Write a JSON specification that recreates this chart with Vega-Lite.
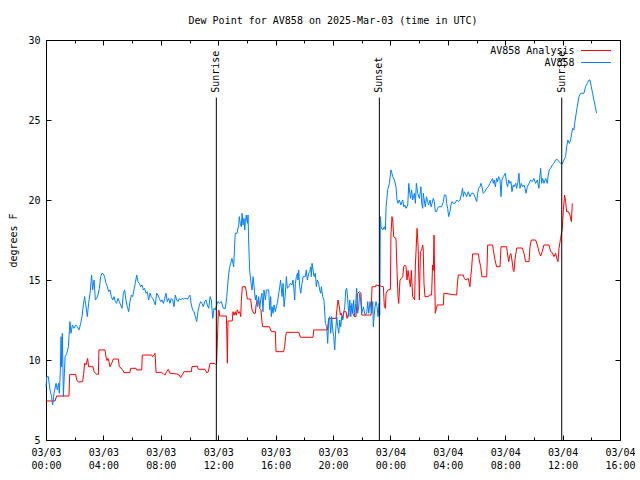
{
  "$schema": "https://vega.github.io/schema/vega-lite/v6.json",
  "width": 574,
  "height": 400,
  "autosize": "none",
  "padding": {"left": 46, "top": 40, "right": 20, "bottom": 40},
  "background": "white",
  "title": {"text": "Dew Point for AV858 on 2025-Mar-03 (time in UTC)", "font": "DejaVu Sans Mono", "fontSize": 10, "fontWeight": "normal", "color": "black", "offset": 9, "anchor": "middle"},
  "config": {
    "view": {"stroke": "black", "strokeWidth": 1},
    "axis": {"domain": false, "grid": false, "tickColor": "black", "tickSize": -5, "tickWidth": 1, "labelColor": "black", "labelFont": "DejaVu Sans Mono", "labelFontSize": 10, "titleFont": "DejaVu Sans Mono", "titleFontSize": 10, "titleFontWeight": "normal", "titleColor": "black", "labelFlush": false},
    "legend": {"labelFont": "DejaVu Sans Mono", "labelFontSize": 10, "labelColor": "black"}
  },
  "datasets": {
    "red": [
      {"h":0.0,"v":7.44},{"h":0.63,"v":7.44},{"h":0.74,"v":7.75},{"h":1.6,"v":7.75},{"h":1.65,"v":9.1},{"h":2.07,"v":9.1},{"h":2.14,"v":8.75},{"h":2.25,"v":8.62},{"h":2.55,"v":8.65},{"h":2.62,"v":9.1},{"h":2.69,"v":9.8},{"h":2.79,"v":9.7},{"h":2.9,"v":10.1},{"h":2.97,"v":9.58},{"h":3.28,"v":9.58},{"h":3.35,"v":9.27},{"h":3.53,"v":9.1},{"h":3.65,"v":9.1},{"h":3.69,"v":10.63},{"h":4.11,"v":10.63},{"h":4.18,"v":10.2},{"h":4.25,"v":9.96},{"h":4.32,"v":10.1},{"h":4.39,"v":9.9},{"h":4.46,"v":9.58},{"h":4.58,"v":9.8},{"h":4.69,"v":10.06},{"h":5.04,"v":10.06},{"h":5.11,"v":9.58},{"h":5.23,"v":9.5},{"h":5.34,"v":9.38},{"h":5.44,"v":9.21},{"h":5.85,"v":9.21},{"h":5.9,"v":9.48},{"h":6.27,"v":9.48},{"h":6.32,"v":9.38},{"h":6.67,"v":9.38},{"h":6.71,"v":10.31},{"h":7.36,"v":10.31},{"h":7.43,"v":10.2},{"h":7.53,"v":10.31},{"h":7.6,"v":10.42},{"h":7.67,"v":9.23},{"h":8.06,"v":9.23},{"h":8.18,"v":9.13},{"h":8.29,"v":9.06},{"h":8.41,"v":9.27},{"h":8.52,"v":9.42},{"h":8.64,"v":9.17},{"h":9.11,"v":9.13},{"h":9.29,"v":9.06},{"h":9.38,"v":8.9},{"h":9.48,"v":9.06},{"h":9.62,"v":9.27},{"h":10.13,"v":9.27},{"h":10.17,"v":9.58},{"h":10.54,"v":9.62},{"h":10.61,"v":9.42},{"h":11.08,"v":9.42},{"h":11.2,"v":9.2},{"h":11.31,"v":9.27},{"h":11.43,"v":9.79},{"h":11.73,"v":9.79},{"h":11.8,"v":9.73},{"h":11.89,"v":9.79},{"h":11.92,"v":10.6},{"h":12.01,"v":13.1},{"h":12.06,"v":13.1},{"h":12.1,"v":12.75},{"h":12.57,"v":12.75},{"h":12.61,"v":11.25},{"h":12.64,"v":9.8},{"h":12.68,"v":12.44},{"h":12.98,"v":12.44},{"h":13.03,"v":13.02},{"h":13.1,"v":12.8},{"h":13.19,"v":13.02},{"h":13.26,"v":12.8},{"h":13.33,"v":13.13},{"h":13.43,"v":12.92},{"h":13.5,"v":13.02},{"h":13.57,"v":12.71},{"h":13.61,"v":13.65},{"h":13.68,"v":14.58},{"h":13.89,"v":14.58},{"h":13.96,"v":14.27},{"h":14.03,"v":13.81},{"h":14.26,"v":13.81},{"h":14.31,"v":13.44},{"h":14.36,"v":13.13},{"h":14.47,"v":12.92},{"h":14.59,"v":12.92},{"h":14.64,"v":13.44},{"h":14.73,"v":13.75},{"h":14.82,"v":13.65},{"h":14.89,"v":13.23},{"h":14.98,"v":13.13},{"h":15.05,"v":12.4},{"h":15.1,"v":12.08},{"h":15.57,"v":12.08},{"h":15.7,"v":11.77},{"h":15.98,"v":11.77},{"h":16.03,"v":10.52},{"h":16.56,"v":10.52},{"h":16.63,"v":10.83},{"h":16.7,"v":11.46},{"h":16.75,"v":11.73},{"h":17.61,"v":11.73},{"h":17.73,"v":11.42},{"h":18.61,"v":11.42},{"h":18.66,"v":11.88},{"h":19.61,"v":11.88},{"h":19.7,"v":12.6},{"h":20.21,"v":12.6},{"h":20.28,"v":13.23},{"h":20.35,"v":13.75},{"h":20.44,"v":13.33},{"h":20.51,"v":12.81},{"h":20.58,"v":12.92},{"h":20.67,"v":12.6},{"h":20.74,"v":13.02},{"h":20.91,"v":13.02},{"h":20.98,"v":12.6},{"h":21.05,"v":12.81},{"h":21.14,"v":13.33},{"h":21.26,"v":13.33},{"h":21.37,"v":12.92},{"h":21.49,"v":12.71},{"h":21.6,"v":12.71},{"h":21.72,"v":14.17},{"h":21.84,"v":14.27},{"h":21.95,"v":14.17},{"h":22.0,"v":12.81},{"h":22.65,"v":12.81},{"h":22.72,"v":14.58},{"h":22.95,"v":14.58},{"h":23.0,"v":14.69},{"h":23.51,"v":14.58},{"h":23.58,"v":13.33},{"h":23.65,"v":13.23},{"h":23.7,"v":14.17},{"h":23.76,"v":14.27},{"h":23.83,"v":14.38},{"h":24.0,"v":14.4},{"h":24.04,"v":17.9},{"h":24.11,"v":18.96},{"h":24.16,"v":18.75},{"h":24.23,"v":17.7},{"h":24.39,"v":17.6},{"h":24.46,"v":15.6},{"h":24.53,"v":13.96},{"h":24.58,"v":13.54},{"h":24.67,"v":15.0},{"h":24.76,"v":15.1},{"h":24.86,"v":15.2},{"h":24.93,"v":15.83},{"h":25.0,"v":15.94},{"h":25.09,"v":15.83},{"h":25.16,"v":15.0},{"h":25.23,"v":15.6},{"h":25.32,"v":15.0},{"h":25.39,"v":14.58},{"h":25.46,"v":15.6},{"h":25.55,"v":13.96},{"h":25.69,"v":13.75},{"h":25.74,"v":15.94},{"h":25.79,"v":16.88},{"h":25.86,"v":18.23},{"h":25.93,"v":17.08},{"h":26.02,"v":13.75},{"h":26.09,"v":16.77},{"h":26.18,"v":16.88},{"h":26.25,"v":17.19},{"h":26.29,"v":16.88},{"h":26.34,"v":14.79},{"h":26.41,"v":13.96},{"h":26.64,"v":13.96},{"h":26.71,"v":14.06},{"h":26.87,"v":14.06},{"h":26.94,"v":15.94},{"h":26.99,"v":15.6},{"h":27.04,"v":17.81},{"h":27.08,"v":15.4},{"h":27.13,"v":12.92},{"h":27.17,"v":13.1},{"h":27.27,"v":13.44},{"h":27.69,"v":13.44},{"h":27.73,"v":14.17},{"h":28.62,"v":14.06},{"h":28.66,"v":14.69},{"h":28.73,"v":15.31},{"h":29.08,"v":15.31},{"h":29.15,"v":15.1},{"h":29.27,"v":15.0},{"h":29.43,"v":15.1},{"h":29.54,"v":14.58},{"h":29.59,"v":15.1},{"h":29.66,"v":15.73},{"h":29.73,"v":16.63},{"h":30.13,"v":16.63},{"h":30.19,"v":16.25},{"h":30.29,"v":15.83},{"h":30.38,"v":15.2},{"h":30.71,"v":15.2},{"h":30.78,"v":17.19},{"h":31.12,"v":17.19},{"h":31.17,"v":16.88},{"h":31.29,"v":16.25},{"h":31.4,"v":15.83},{"h":31.64,"v":15.83},{"h":31.71,"v":17.08},{"h":32.1,"v":17.08},{"h":32.17,"v":16.56},{"h":32.24,"v":16.15},{"h":32.33,"v":16.56},{"h":32.4,"v":16.65},{"h":32.47,"v":16.25},{"h":32.56,"v":15.6},{"h":32.61,"v":15.52},{"h":32.68,"v":16.25},{"h":32.8,"v":17.0},{"h":33.19,"v":17.0},{"h":33.31,"v":16.67},{"h":33.42,"v":16.15},{"h":33.66,"v":16.15},{"h":33.73,"v":17.08},{"h":33.82,"v":17.5},{"h":34.12,"v":17.5},{"h":34.24,"v":17.19},{"h":34.35,"v":16.77},{"h":34.47,"v":16.5},{"h":34.58,"v":16.77},{"h":34.7,"v":17.19},{"h":35.05,"v":17.19},{"h":35.17,"v":16.77},{"h":35.28,"v":16.7},{"h":35.4,"v":16.46},{"h":35.51,"v":16.67},{"h":35.63,"v":16.25},{"h":35.68,"v":16.15},{"h":35.75,"v":16.98},{"h":35.86,"v":17.6},{"h":35.98,"v":18.23},{"h":36.05,"v":19.38},{"h":36.14,"v":20.31},{"h":36.21,"v":19.9},{"h":36.28,"v":19.27},{"h":36.4,"v":19.27},{"h":36.51,"v":19.06},{"h":36.61,"v":18.65},{"h":36.68,"v":19.79}
    ],
    "blue": [
      {"h":0.0,"v":8.3},{"h":0.05,"v":8.96},{"h":0.16,"v":8.96},{"h":0.28,"v":8.13},{"h":0.39,"v":7.71},{"h":0.46,"v":7.19},{"h":0.56,"v":7.92},{"h":0.7,"v":8.54},{"h":0.79,"v":8.13},{"h":0.88,"v":8.54},{"h":0.93,"v":7.92},{"h":1.0,"v":9.38},{"h":1.05,"v":11.46},{"h":1.09,"v":9.58},{"h":1.14,"v":11.67},{"h":1.21,"v":7.71},{"h":1.33,"v":10.2},{"h":1.45,"v":10.42},{"h":1.56,"v":10.83},{"h":1.67,"v":12.4},{"h":1.74,"v":11.67},{"h":1.84,"v":12.19},{"h":1.95,"v":11.98},{"h":2.07,"v":12.19},{"h":2.18,"v":12.08},{"h":2.3,"v":11.88},{"h":2.42,"v":12.29},{"h":2.51,"v":12.71},{"h":2.6,"v":13.44},{"h":2.69,"v":13.96},{"h":2.79,"v":13.33},{"h":2.88,"v":12.71},{"h":2.97,"v":13.54},{"h":3.07,"v":14.17},{"h":3.18,"v":15.31},{"h":3.25,"v":14.38},{"h":3.35,"v":15.0},{"h":3.44,"v":13.75},{"h":3.53,"v":13.85},{"h":3.62,"v":14.06},{"h":3.72,"v":14.48},{"h":3.81,"v":15.21},{"h":3.9,"v":15.42},{"h":4.0,"v":15.38},{"h":4.09,"v":15.17},{"h":4.18,"v":14.79},{"h":4.28,"v":14.58},{"h":4.37,"v":14.27},{"h":4.46,"v":14.38},{"h":4.55,"v":13.96},{"h":4.65,"v":13.75},{"h":4.74,"v":13.96},{"h":4.83,"v":13.65},{"h":4.92,"v":13.54},{"h":5.02,"v":13.85},{"h":5.11,"v":13.65},{"h":5.2,"v":13.44},{"h":5.3,"v":13.23},{"h":5.39,"v":14.17},{"h":5.48,"v":14.38},{"h":5.57,"v":13.75},{"h":5.67,"v":13.33},{"h":5.76,"v":13.02},{"h":5.85,"v":13.65},{"h":5.95,"v":14.06},{"h":6.04,"v":13.96},{"h":6.13,"v":14.38},{"h":6.22,"v":14.79},{"h":6.32,"v":15.31},{"h":6.41,"v":14.9},{"h":6.5,"v":14.79},{"h":6.6,"v":14.58},{"h":6.69,"v":14.69},{"h":6.78,"v":14.38},{"h":6.87,"v":14.48},{"h":6.97,"v":14.17},{"h":7.06,"v":14.27},{"h":7.15,"v":13.75},{"h":7.25,"v":14.17},{"h":7.34,"v":13.96},{"h":7.43,"v":13.85},{"h":7.53,"v":13.65},{"h":7.62,"v":13.44},{"h":7.71,"v":14.17},{"h":7.8,"v":14.06},{"h":7.9,"v":13.85},{"h":7.99,"v":13.65},{"h":8.08,"v":13.75},{"h":8.18,"v":13.54},{"h":8.27,"v":13.85},{"h":8.36,"v":14.17},{"h":8.45,"v":13.65},{"h":8.55,"v":13.85},{"h":8.64,"v":13.54},{"h":8.73,"v":13.85},{"h":8.83,"v":13.75},{"h":8.92,"v":13.33},{"h":9.01,"v":14.06},{"h":9.11,"v":13.75},{"h":9.2,"v":13.65},{"h":9.29,"v":13.85},{"h":9.38,"v":13.75},{"h":9.48,"v":13.85},{"h":9.57,"v":13.8},{"h":9.66,"v":13.85},{"h":9.76,"v":13.85},{"h":9.85,"v":13.8},{"h":9.94,"v":13.92},{"h":10.03,"v":14.06},{"h":10.13,"v":13.44},{"h":10.22,"v":13.13},{"h":10.31,"v":13.02},{"h":10.41,"v":12.71},{"h":10.5,"v":12.4},{"h":10.59,"v":13.02},{"h":10.69,"v":13.44},{"h":10.78,"v":13.65},{"h":10.87,"v":13.54},{"h":10.96,"v":13.33},{"h":11.06,"v":13.65},{"h":11.15,"v":13.75},{"h":11.24,"v":13.44},{"h":11.34,"v":13.23},{"h":11.43,"v":13.96},{"h":11.52,"v":13.75},{"h":11.62,"v":12.6},{"h":11.71,"v":13.23},{"h":11.8,"v":13.13},{"h":11.89,"v":13.44},{"h":11.99,"v":13.65},{"h":12.08,"v":13.54},{"h":12.22,"v":13.65},{"h":12.36,"v":13.23},{"h":12.5,"v":13.23},{"h":12.6,"v":13.96},{"h":12.69,"v":15.0},{"h":12.78,"v":15.73},{"h":12.96,"v":16.35},{"h":13.08,"v":15.83},{"h":13.15,"v":17.29},{"h":13.19,"v":17.92},{"h":13.31,"v":17.92},{"h":13.43,"v":18.44},{"h":13.47,"v":18.96},{"h":13.54,"v":18.54},{"h":13.61,"v":18.33},{"h":13.66,"v":19.17},{"h":13.73,"v":18.44},{"h":13.8,"v":18.85},{"h":13.85,"v":18.13},{"h":13.89,"v":18.65},{"h":13.96,"v":19.06},{"h":14.03,"v":18.54},{"h":14.08,"v":19.06},{"h":14.12,"v":17.5},{"h":14.19,"v":15.63},{"h":14.29,"v":14.79},{"h":14.36,"v":14.38},{"h":14.43,"v":15.21},{"h":14.5,"v":14.58},{"h":14.59,"v":13.75},{"h":14.66,"v":14.06},{"h":14.73,"v":13.33},{"h":14.82,"v":13.96},{"h":14.89,"v":13.23},{"h":14.96,"v":13.75},{"h":15.05,"v":14.17},{"h":15.12,"v":13.02},{"h":15.19,"v":14.38},{"h":15.29,"v":13.75},{"h":15.36,"v":14.38},{"h":15.52,"v":14.38},{"h":15.59,"v":13.13},{"h":15.66,"v":13.96},{"h":15.7,"v":12.71},{"h":15.75,"v":13.33},{"h":15.82,"v":12.92},{"h":15.89,"v":13.44},{"h":15.98,"v":13.02},{"h":16.05,"v":13.33},{"h":16.12,"v":13.54},{"h":16.22,"v":14.17},{"h":16.29,"v":14.58},{"h":16.35,"v":15.0},{"h":16.45,"v":13.96},{"h":16.52,"v":14.79},{"h":16.59,"v":13.33},{"h":16.68,"v":14.17},{"h":16.75,"v":15.21},{"h":16.82,"v":14.48},{"h":16.91,"v":14.58},{"h":17.03,"v":14.79},{"h":17.14,"v":14.69},{"h":17.21,"v":15.0},{"h":17.28,"v":14.38},{"h":17.33,"v":13.75},{"h":17.38,"v":14.79},{"h":17.45,"v":15.21},{"h":17.52,"v":15.42},{"h":17.56,"v":15.0},{"h":17.61,"v":15.63},{"h":17.68,"v":14.58},{"h":17.75,"v":14.17},{"h":17.84,"v":14.79},{"h":17.91,"v":15.21},{"h":17.98,"v":15.21},{"h":18.07,"v":15.21},{"h":18.14,"v":15.63},{"h":18.21,"v":15.0},{"h":18.31,"v":15.42},{"h":18.38,"v":15.52},{"h":18.45,"v":15.83},{"h":18.49,"v":15.21},{"h":18.54,"v":16.04},{"h":18.61,"v":15.63},{"h":18.68,"v":15.21},{"h":18.77,"v":15.42},{"h":18.84,"v":14.58},{"h":18.91,"v":15.0},{"h":19.0,"v":14.79},{"h":19.07,"v":14.38},{"h":19.14,"v":14.17},{"h":19.19,"v":14.58},{"h":19.28,"v":13.96},{"h":19.37,"v":13.75},{"h":19.47,"v":12.29},{"h":19.56,"v":12.08},{"h":19.63,"v":11.04},{"h":19.7,"v":12.5},{"h":19.77,"v":12.71},{"h":19.84,"v":11.67},{"h":19.91,"v":12.71},{"h":19.98,"v":11.88},{"h":20.05,"v":11.46},{"h":20.12,"v":10.63},{"h":20.19,"v":11.88},{"h":20.26,"v":12.71},{"h":20.33,"v":12.08},{"h":20.4,"v":11.67},{"h":20.47,"v":12.5},{"h":20.54,"v":12.08},{"h":20.61,"v":12.71},{"h":20.68,"v":12.5},{"h":20.75,"v":12.92},{"h":20.82,"v":13.33},{"h":20.89,"v":14.38},{"h":20.96,"v":14.48},{"h":21.03,"v":13.75},{"h":21.1,"v":12.71},{"h":21.17,"v":13.75},{"h":21.24,"v":12.71},{"h":21.31,"v":13.54},{"h":21.38,"v":12.92},{"h":21.44,"v":13.75},{"h":21.51,"v":12.71},{"h":21.58,"v":13.54},{"h":21.65,"v":14.48},{"h":21.72,"v":12.92},{"h":21.79,"v":13.33},{"h":21.86,"v":14.17},{"h":21.93,"v":13.75},{"h":22.0,"v":12.92},{"h":22.12,"v":13.33},{"h":22.23,"v":12.81},{"h":22.35,"v":12.92},{"h":22.42,"v":13.65},{"h":22.49,"v":12.92},{"h":22.58,"v":13.65},{"h":22.7,"v":12.92},{"h":22.77,"v":13.65},{"h":22.81,"v":12.08},{"h":22.86,"v":12.71},{"h":22.93,"v":13.33},{"h":23.0,"v":13.65},{"h":23.07,"v":13.33},{"h":23.14,"v":12.71},{"h":23.21,"v":13.54},{"h":23.26,"v":12.8},{"h":23.3,"v":18.96},{"h":23.35,"v":18.33},{"h":23.47,"v":18.13},{"h":23.58,"v":18.33},{"h":23.65,"v":18.13},{"h":23.7,"v":19.58},{"h":23.81,"v":20.63},{"h":23.93,"v":21.04},{"h":24.04,"v":21.88},{"h":24.11,"v":21.67},{"h":24.16,"v":21.46},{"h":24.28,"v":21.25},{"h":24.39,"v":20.83},{"h":24.46,"v":20.0},{"h":24.53,"v":19.79},{"h":24.62,"v":20.0},{"h":24.74,"v":19.69},{"h":24.86,"v":20.0},{"h":24.93,"v":19.58},{"h":25.0,"v":19.69},{"h":25.09,"v":19.48},{"h":25.21,"v":19.69},{"h":25.28,"v":21.04},{"h":25.35,"v":20.42},{"h":25.41,"v":20.1},{"h":25.48,"v":20.63},{"h":25.55,"v":20.0},{"h":25.67,"v":20.42},{"h":25.74,"v":19.79},{"h":25.81,"v":21.04},{"h":25.9,"v":20.42},{"h":26.02,"v":20.1},{"h":26.09,"v":20.52},{"h":26.13,"v":20.83},{"h":26.18,"v":19.79},{"h":26.25,"v":19.48},{"h":26.29,"v":20.42},{"h":26.36,"v":20.0},{"h":26.43,"v":19.58},{"h":26.52,"v":20.21},{"h":26.59,"v":19.9},{"h":26.66,"v":19.69},{"h":26.76,"v":20.0},{"h":26.83,"v":19.58},{"h":26.9,"v":19.79},{"h":26.99,"v":20.1},{"h":27.06,"v":19.9},{"h":27.13,"v":19.27},{"h":27.22,"v":19.27},{"h":27.29,"v":19.48},{"h":27.36,"v":19.58},{"h":27.57,"v":19.58},{"h":27.69,"v":19.9},{"h":27.76,"v":20.31},{"h":27.87,"v":20.31},{"h":27.92,"v":19.79},{"h":27.99,"v":19.48},{"h":28.06,"v":18.96},{"h":28.15,"v":19.27},{"h":28.22,"v":19.69},{"h":28.29,"v":19.9},{"h":28.38,"v":19.79},{"h":28.5,"v":19.79},{"h":28.62,"v":20.0},{"h":28.73,"v":19.9},{"h":28.85,"v":20.0},{"h":28.96,"v":20.42},{"h":29.03,"v":20.73},{"h":29.08,"v":20.21},{"h":29.15,"v":20.52},{"h":29.22,"v":20.42},{"h":29.31,"v":20.21},{"h":29.43,"v":20.52},{"h":29.54,"v":20.21},{"h":29.66,"v":20.42},{"h":29.78,"v":20.42},{"h":29.89,"v":20.21},{"h":30.01,"v":19.9},{"h":30.08,"v":20.42},{"h":30.15,"v":20.73},{"h":30.24,"v":20.83},{"h":30.31,"v":21.04},{"h":30.38,"v":20.83},{"h":30.47,"v":20.42},{"h":30.59,"v":20.52},{"h":30.71,"v":20.73},{"h":30.82,"v":20.83},{"h":30.94,"v":21.04},{"h":31.05,"v":21.25},{"h":31.12,"v":21.35},{"h":31.17,"v":21.04},{"h":31.24,"v":21.25},{"h":31.31,"v":20.83},{"h":31.4,"v":21.35},{"h":31.47,"v":21.15},{"h":31.54,"v":21.46},{"h":31.64,"v":21.25},{"h":31.71,"v":20.21},{"h":31.77,"v":21.25},{"h":31.87,"v":21.46},{"h":31.94,"v":21.56},{"h":32.01,"v":21.67},{"h":32.1,"v":21.04},{"h":32.17,"v":20.83},{"h":32.24,"v":21.25},{"h":32.33,"v":21.04},{"h":32.4,"v":21.15},{"h":32.47,"v":20.52},{"h":32.56,"v":20.94},{"h":32.61,"v":20.83},{"h":32.73,"v":21.04},{"h":32.8,"v":20.73},{"h":32.89,"v":21.15},{"h":32.96,"v":21.67},{"h":33.03,"v":20.73},{"h":33.12,"v":21.04},{"h":33.21,"v":20.83},{"h":33.31,"v":20.94},{"h":33.38,"v":20.73},{"h":33.45,"v":20.42},{"h":33.54,"v":20.83},{"h":33.66,"v":21.04},{"h":33.77,"v":21.25},{"h":33.89,"v":21.15},{"h":34.0,"v":21.35},{"h":34.12,"v":21.04},{"h":34.24,"v":21.25},{"h":34.35,"v":20.73},{"h":34.42,"v":21.56},{"h":34.47,"v":21.98},{"h":34.54,"v":21.04},{"h":34.61,"v":21.35},{"h":34.7,"v":21.04},{"h":34.82,"v":21.35},{"h":34.93,"v":21.04},{"h":35.0,"v":21.56},{"h":35.07,"v":21.88},{"h":35.17,"v":21.98},{"h":35.28,"v":22.19},{"h":35.4,"v":22.29},{"h":35.51,"v":22.5},{"h":35.63,"v":22.54},{"h":35.75,"v":22.4},{"h":35.86,"v":22.29},{"h":35.98,"v":22.25},{"h":36.09,"v":22.5},{"h":36.21,"v":22.71},{"h":36.28,"v":23.33},{"h":36.37,"v":23.75},{"h":36.47,"v":23.54},{"h":36.56,"v":23.75},{"h":36.63,"v":24.17},{"h":36.7,"v":24.48},{"h":36.79,"v":24.38},{"h":36.86,"v":24.9},{"h":36.93,"v":25.31},{"h":37.02,"v":25.83},{"h":37.14,"v":26.46},{"h":37.26,"v":26.67},{"h":37.49,"v":26.67},{"h":37.6,"v":27.08},{"h":37.72,"v":27.29},{"h":37.84,"v":27.5},{"h":37.91,"v":27.5},{"h":38.0,"v":27.08},{"h":38.09,"v":26.67},{"h":38.18,"v":26.25},{"h":38.28,"v":25.83},{"h":38.37,"v":25.42}
    ],
    "events": [
      {"event": "Sunrise", "h": 11.87},
      {"event": "Sunset", "h": 23.23},
      {"event": "Sunrise", "h": 35.94}
    ]
  },
  "layer": [
    {
      "data": {"name": "red"},
      "mark": {"type": "line", "strokeWidth": 1, "interpolate": "linear"},
      "encoding": {
        "x": {"field": "h", "type": "quantitative", "scale": {"domain": [0, 40], "nice": false, "zero": false},
              "axis": {"orient": "bottom", "values": [0,2,4,6,8,10,12,14,16,18,20,22,24,26,28,30,32,34,36,38,40], "title": null, "labelPadding": 12, "labelLineHeight": 13,
                       "tickSize": {"condition": {"test": "datum.value % 4 == 0", "value": -5}, "value": -3},
                       "labelExpr": "datum.value % 4 != 0 ? '' : [datum.value < 24 ? '03/03' : '03/04', ((datum.value % 24) < 10 ? '0' : '') + (datum.value % 24) + ':00']"}},
        "y": {"field": "v", "type": "quantitative", "scale": {"domain": [5, 30], "nice": false, "zero": false},
              "axis": {"orient": "left", "values": [5,10,15,20,25,30], "title": "degrees F", "labelPadding": 11, "titlePadding": 9}},
        "color": {"datum": "AV858 Analysis", "type": "nominal",
                  "scale": {"domain": ["AV858 Analysis", "AV858"], "range": ["#ff0000", "#0080ff"]},
                  "legend": {"orient": "none", "legendX": 543.5, "legendY": 4, "title": null, "padding": 0, "rowPadding": 0,
                             "symbolType": "M-2.5,0H2.5", "symbolSize": 144, "symbolStrokeWidth": 1,
                             "labelAlign": "right", "labelOffset": -28}}
      }
    },
    {
      "data": {"name": "blue"},
      "mark": {"type": "line", "strokeWidth": 1, "interpolate": "linear"},
      "encoding": {
        "x": {"field": "h", "type": "quantitative", "axis": {"orient": "top", "values": [0,2,4,6,8,10,12,14,16,18,20,22,24,26,28,30,32,34,36,38,40], "labels": false, "title": null,
                                                              "tickSize": {"condition": {"test": "datum.value % 4 == 0", "value": -5}, "value": -3}}},
        "y": {"field": "v", "type": "quantitative", "axis": {"orient": "right", "values": [5,10,15,20,25,30], "labels": false, "title": null}},
        "color": {"datum": "AV858", "type": "nominal"}
      }
    },
    {
      "data": {"name": "events"},
      "mark": {"type": "rule", "color": "black", "strokeWidth": 1},
      "encoding": {
        "x": {"field": "h", "type": "quantitative", "axis": null},
        "y": {"datum": 5, "type": "quantitative", "axis": null},
        "y2": {"datum": 26.4}
      }
    },
    {
      "data": {"name": "events"},
      "mark": {"type": "text", "angle": 270, "align": "left", "baseline": "middle", "font": "DejaVu Sans Mono", "fontSize": 10, "color": "black"},
      "encoding": {
        "x": {"field": "h", "type": "quantitative", "axis": null},
        "y": {"datum": 26.7, "type": "quantitative", "axis": null},
        "text": {"field": "event"}
      }
    }
  ],
  "resolve": {"axis": {"x": "independent", "y": "independent"}}
}
